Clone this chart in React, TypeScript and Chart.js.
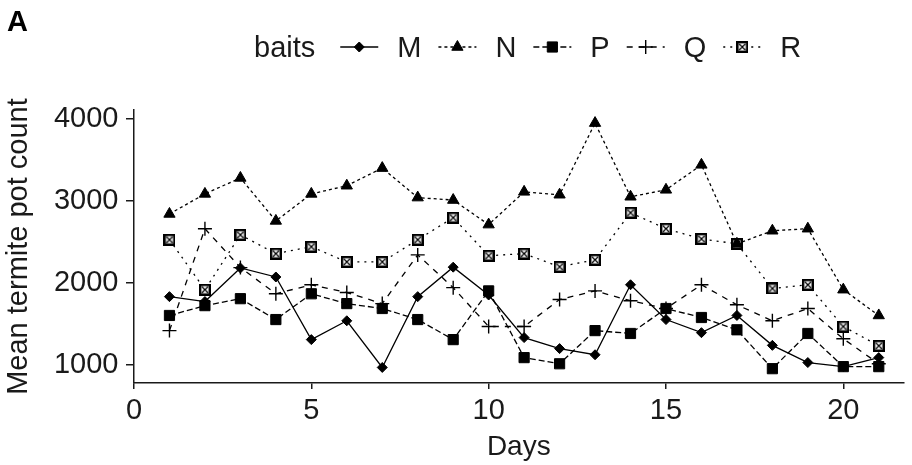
import React, { useEffect, useRef } from 'react';
import { Chart, registerables } from 'chart.js';

Chart.register(...registerables);

// ---------- data ----------
const days = [1, 2, 3, 4, 5, 6, 7, 8, 9, 10, 11, 12, 13, 14, 15, 16, 17, 18, 19, 20, 21];
const baitNames = ['M', 'N', 'P', 'Q', 'R'];
const mValues = [1830, 1770, 2180, 2070, 1305, 1535, 965, 1830, 2190, 1850, 1330, 1195, 1120, 1975, 1550, 1390, 1600, 1235, 1025, 975, 1085];
const nValues = [2840, 3085, 3280, 2755, 3085, 3185, 3400, 3040, 3010, 2710, 3110, 3075, 3950, 3050, 3135, 3440, 2475, 2635, 2660, 1915, 1600];
const pValues = [1600, 1720, 1805, 1550, 1865, 1745, 1685, 1550, 1305, 1900, 1085, 1010, 1415, 1380, 1685, 1575, 1425, 950, 1380, 975, 975];
const qValues = [1415, 2660, 2185, 1865, 1975, 1880, 1745, 2340, 1940, 1465, 1465, 1795, 1900, 1780, 1685, 1975, 1730, 1535, 1685, 1315, 1010];
const rValues = [2525, 1915, 2585, 2355, 2440, 2255, 2255, 2525, 2795, 2330, 2355, 2195, 2280, 2855, 2660, 2535, 2475, 1930, 1975, 1465, 1230];
const xTicks = [0, 5, 10, 15, 20];
const yTicks = [1000, 2000, 3000, 4000];
const panelLabel = 'A';
const legendTitle = 'baits';
const xTitle = 'Days';
const yTitle = 'Mean termite pot count';

// ---------- styles ----------
const FONT = "'Liberation Sans', Arial, sans-serif";
const INK = '#1a1a1a';

function makeBoxCross(size: number): HTMLCanvasElement {
  const c = document.createElement('canvas');
  c.width = size;
  c.height = size;
  const ctx = c.getContext('2d')!;
  ctx.fillStyle = '#fff';
  ctx.fillRect(0, 0, size, size);
  ctx.strokeStyle = '#000';
  ctx.lineWidth = 2.4;
  ctx.strokeRect(1.2, 1.2, size - 2.4, size - 2.4);
  ctx.lineWidth = 1.2;
  ctx.beginPath();
  ctx.moveTo(3, 3);
  ctx.lineTo(size - 3, size - 3);
  ctx.moveTo(size - 3, 3);
  ctx.lineTo(3, size - 3);
  ctx.stroke();
  return c;
}

type SeriesStyle = { shape: string; radius: number; dash: number[]; borderW: number };
const seriesStyles: Record<string, SeriesStyle> = {
  M: { shape: 'rectRot', radius: 5, dash: [], borderW: 1 },
  N: { shape: 'triangle', radius: 6.5, dash: [3, 3], borderW: 1 },
  P: { shape: 'rect', radius: 7.2, dash: [6, 3], borderW: 1 },
  Q: { shape: 'cross', radius: 7, dash: [6, 6], borderW: 1.4 },
  R: { shape: 'boxcross', radius: 6, dash: [2, 5], borderW: 1 },
};

function drawMarker(ctx: CanvasRenderingContext2D, st: SeriesStyle, x: number, y: number, box: HTMLCanvasElement) {
  const r = st.radius;
  ctx.save();
  ctx.setLineDash([]);
  ctx.fillStyle = '#000';
  ctx.strokeStyle = '#000';
  ctx.lineWidth = st.borderW;
  ctx.beginPath();
  if (st.shape === 'rectRot') {
    ctx.moveTo(x - r, y);
    ctx.lineTo(x, y - r);
    ctx.lineTo(x + r, y);
    ctx.lineTo(x, y + r);
    ctx.closePath();
    ctx.fill();
    ctx.stroke();
  } else if (st.shape === 'triangle') {
    for (let k = 0; k < 3; k++) {
      const a = (k * 2 * Math.PI) / 3;
      const px = x + Math.sin(a) * r;
      const py = y - Math.cos(a) * r;
      if (k === 0) ctx.moveTo(px, py);
      else ctx.lineTo(px, py);
    }
    ctx.closePath();
    ctx.fill();
    ctx.stroke();
  } else if (st.shape === 'rect') {
    const s = Math.SQRT1_2 * r;
    ctx.rect(x - s, y - s, 2 * s, 2 * s);
    ctx.fill();
    ctx.stroke();
  } else if (st.shape === 'cross') {
    ctx.moveTo(x - r, y);
    ctx.lineTo(x + r, y);
    ctx.moveTo(x, y - r);
    ctx.lineTo(x, y + r);
    ctx.stroke();
  } else {
    ctx.drawImage(box, x - box.width / 2, y - box.height / 2);
  }
  ctx.restore();
}

export default function App() {
  const canvasRef = useRef<HTMLCanvasElement | null>(null);

  useEffect(() => {
    const canvas = canvasRef.current;
    if (!canvas) return;
    const box = makeBoxCross(12);
    const valuesByName: Record<string, number[]> = { M: mValues, N: nValues, P: pValues, Q: qValues, R: rValues };

    const datasets = baitNames.map((name) => {
      const st = seriesStyles[name];
      return {
        label: name,
        data: days.map((d, i) => ({ x: d, y: valuesByName[name][i] })),
        borderColor: '#000',
        backgroundColor: '#000',
        borderWidth: 1.3,
        borderDash: st.dash,
        tension: 0,
        fill: false,
        pointStyle: (st.shape === 'boxcross' ? box : st.shape) as any,
        pointRadius: st.radius,
        pointHoverRadius: st.radius,
        pointBackgroundColor: '#000',
        pointBorderColor: '#000',
        pointBorderWidth: st.borderW,
      };
    });

    const legendPlugin = {
      id: 'customLegend',
      afterDraw(chart: any) {
        const ctx: CanvasRenderingContext2D = chart.ctx;
        ctx.save();
        ctx.fillStyle = '#000';
        ctx.font = `bold 29px ${FONT}`;
        ctx.textBaseline = 'alphabetic';
        ctx.textAlign = 'left';
        ctx.fillText(panelLabel, 7, 31);

        ctx.font = `29px ${FONT}`;
        ctx.fillStyle = INK;
        const baseY = 57;
        const midY = 47;
        let x = 254;
        ctx.fillText(legendTitle, x, baseY);
        x += ctx.measureText(legendTitle).width;
        let center = x + 44;
        baitNames.forEach((name) => {
          const st = seriesStyles[name];
          ctx.save();
          ctx.strokeStyle = '#000';
          ctx.lineWidth = 1.3;
          ctx.setLineDash(st.dash);
          ctx.beginPath();
          ctx.moveTo(center - 19, midY);
          ctx.lineTo(center + 19, midY);
          ctx.stroke();
          ctx.restore();
          drawMarker(ctx, st, center, midY, box);
          const lx = center + 38;
          ctx.fillStyle = INK;
          ctx.fillText(name, lx, baseY);
          center = lx + ctx.measureText(name).width + 36;
        });
        ctx.restore();
      },
    };

    const chart = new Chart(canvas, {
      type: 'line',
      data: { datasets } as any,
      plugins: [legendPlugin],
      options: {
        animation: false,
        responsive: true,
        maintainAspectRatio: false,
        layout: { padding: { top: 110, left: 0, right: 0, bottom: 0 } },
        plugins: {
          legend: { display: false },
          tooltip: { enabled: false },
        },
        scales: {
          x: {
            type: 'linear',
            min: 0,
            max: 21.7,
            afterBuildTicks: (s: any) => {
              s.ticks = xTicks.map((v) => ({ value: v }));
            },
            afterFit: (s: any) => {
              s.height = 82;
            },
            grid: { display: true, drawOnChartArea: false, drawTicks: true, tickLength: 6, color: INK, lineWidth: 1.5 },
            border: { display: true, color: INK, width: 1.5 },
            ticks: {
              color: INK,
              font: { family: FONT, size: 29 },
              padding: 5,
              maxRotation: 0,
              autoSkip: false,
              callback: (v: any) => String(v),
            },
            title: { display: true, text: xTitle, color: INK, font: { family: FONT, size: 28 }, padding: { top: 0, bottom: 1 } },
          },
          y: {
            type: 'linear',
            min: 775,
            max: 4110,
            afterBuildTicks: (s: any) => {
              s.ticks = yTicks.map((v) => ({ value: v }));
            },
            afterFit: (s: any) => {
              s.width = 134;
            },
            grid: { display: true, drawOnChartArea: false, drawTicks: true, tickLength: 8, color: INK, lineWidth: 1.5 },
            border: { display: true, color: INK, width: 1.5 },
            ticks: {
              color: INK,
              font: { family: FONT, size: 29 },
              padding: 7.5,
              autoSkip: false,
              callback: (v: any) => String(v),
            },
            title: { display: true, text: yTitle, color: INK, font: { family: FONT, size: 29 }, padding: { top: 2, bottom: 0 } },
          },
        },
      } as any,
    });

    return () => {
      chart.destroy();
    };
  }, []);

  return (
    <div style={{ position: 'fixed', left: 0, top: 0, width: 912, height: 465, background: '#fff' }}>
      <canvas ref={canvasRef} />
    </div>
  );
}
